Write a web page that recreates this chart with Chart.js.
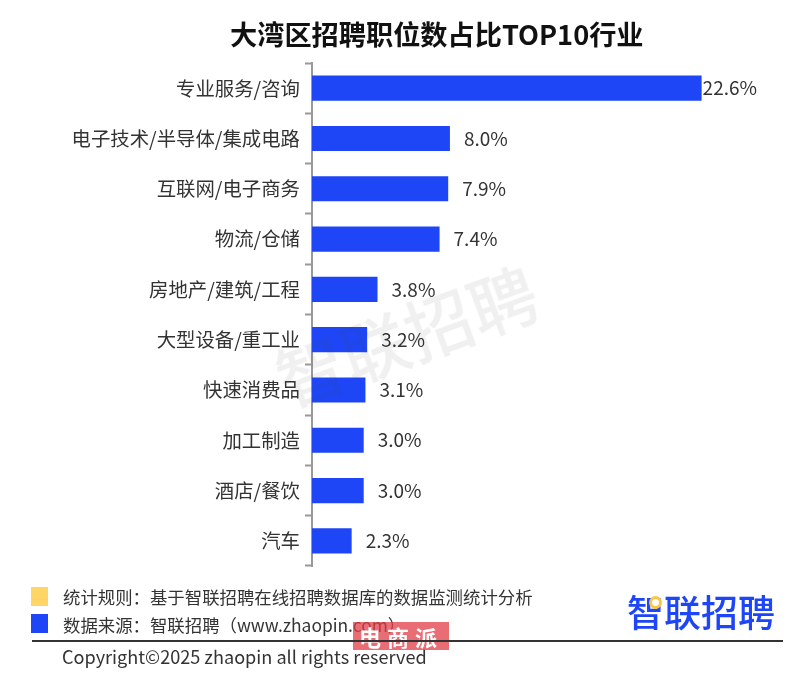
<!DOCTYPE html>
<html lang="zh">
<head>
<meta charset="utf-8">
<title>大湾区招聘职位数占比TOP10行业</title>
<script src="https://cdn.jsdelivr.net/npm/chart.js@4"></script>
<style>
  html, body { margin: 0; padding: 0; background: #fff; }
  body { width: 800px; height: 674px; position: relative; overflow: hidden; font-family: "Noto Sans CJK SC", sans-serif; color: #333; }
  #wrap { position: absolute; left: 0; top: 0; width: 800px; height: 674px; }
  .abs { position: absolute; white-space: nowrap; line-height: 1; }
  #title { left: 230px; top: 20px; font-size: 27.2px; font-weight: 700; color: #111; }
  #watermark { left: 270px; top: 300px; font-size: 68px; font-weight: 500; color: rgba(60,60,60,.08); transform: rotate(-20deg); }
  .box { position: absolute; left: 31px; width: 17px; height: 19px; }
  .note { left: 63px; font-size: 17.4px; color: #333; }
  #rule { position: absolute; left: 32px; top: 640px; width: 751px; height: 2px; background: #333; }
  #logo { left: 627px; top: 593px; font-size: 37px; font-weight: 500; color: #1e46f7; }
  #ring { position: absolute; left: 649px; top: 596px; width: 7px; height: 7px; border: 3px solid #ffc53d; border-radius: 50%; background: #fff; }
  #stamp { left: 353px; top: 622px; width: 96px; height: 28px; background: rgba(226,60,70,.75); color: #fff; font-size: 22px; font-weight: 700; line-height: 28px; text-align: center; letter-spacing: 6px; white-space: nowrap; position: absolute; }
</style>
</head>
<body>
<div id="wrap"><canvas id="myChart" width="800" height="674"></canvas></div>
<div class="abs" id="title">大湾区招聘职位数占比TOP10行业</div>
<div class="abs" id="watermark">智联招聘</div>
<div class="box" style="top:587px;background:#ffd666"></div>
<div class="box" style="top:614px;background:#1e46f7"></div>
<div class="abs note" style="top:588px">统计规则：基于智联招聘在线招聘数据库的数据监测统计分析</div>
<div class="abs note" style="top:616px">数据来源：智联招聘（www.zhaopin.com）</div>
<div id="stamp">电商派</div>
<div id="rule"></div>
<div class="abs note" style="left:62px;top:647px;font-size:18.1px">Copyright©2025 zhaopin all rights reserved</div>
<div class="abs" id="logo">智联招聘</div>
<div id="ring"></div>
<script>
const categories = ['专业服务/咨询', '电子技术/半导体/集成电路', '互联网/电子商务', '物流/仓储', '房地产/建筑/工程', '大型设备/重工业', '快速消费品', '加工制造', '酒店/餐饮', '汽车'];
const shares = [22.6, 8.0, 7.9, 7.4, 3.8, 3.2, 3.1, 3.0, 3.0, 2.3];
const axisMax = 25;

// value labels at the end of each bar
const barLabels = {
    id: 'barLabels',
    afterDatasetsDraw(chart) {
        const ctx = chart.ctx;
        ctx.save();
        ctx.font = '19px "Noto Sans CJK SC"';
        ctx.fillStyle = '#333';
        ctx.textBaseline = 'middle';
        chart.getDatasetMeta(0).data.forEach((bar, i) => {
            // the longest bar has its label tight against the end
            const gap = shares[i] > 20 ? 1 : 14;
            ctx.fillText(shares[i].toFixed(1) + '%', bar.x + gap, bar.y);
        });
        ctx.restore();
    }
};

new Chart(document.getElementById('myChart').getContext('2d'), {
    type: 'bar',
    data: {
        labels: categories,
        datasets: [{
            data: shares,
            backgroundColor: '#1e46f7',
            barPercentage: 0.5,
            categoryPercentage: 1
        }]
    },
    options: {
        indexAxis: 'y',
        responsive: false,
        animation: false,
        layout: { padding: { top: 63, right: 57, bottom: 108, left: 0 } },
        plugins: { legend: { display: false }, tooltip: { enabled: false } },
        scales: {
            x: { display: false, min: 0, max: axisMax },
            y: {
                afterFit(scale) { scale.width = 312; },
                grid: { drawOnChartArea: false, tickLength: 7, color: '#999', tickWidth: 2 },
                border: { color: '#999', width: 2 },
                ticks: { color: '#333', padding: 5, font: { family: '"Noto Sans CJK SC"', size: 19.4 } }
            }
        }
    },
    plugins: [barLabels]
});
</script>
</body>
</html>
